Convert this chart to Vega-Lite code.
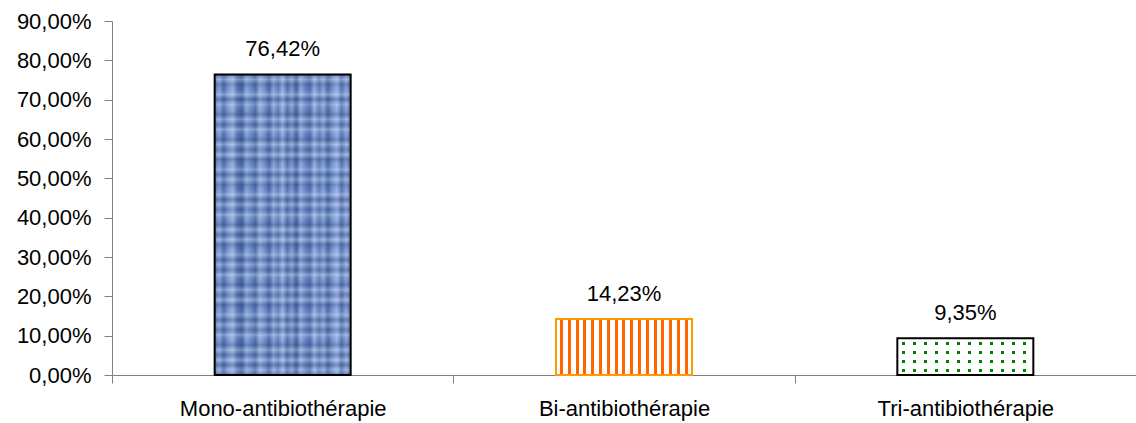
{
  "$schema": "https://vega.github.io/schema/vega-lite/v6.json",
  "width": 1024,
  "height": 354,
  "autosize": "none",
  "padding": {"left": 112, "top": 21, "right": 0, "bottom": 48},
  "background": "#ffffff",
  "config": {
    "view": {"stroke": null},
    "font": "Liberation Sans",
    "locale": {"number": {"decimal": ",", "thousands": " ", "grouping": [3], "currency": ["", " €"]}}
  },
  "data": {
    "values": [
      {"therapie": "Mono-antibiothérapie", "part": 0.7642},
      {"therapie": "Bi-antibiothérapie", "part": 0.1423},
      {"therapie": "Tri-antibiothérapie", "part": 0.0935}
    ]
  },
  "encoding": {
    "x": {
      "field": "therapie",
      "type": "nominal",
      "sort": null,
      "scale": {"paddingInner": 0, "paddingOuter": 0},
      "axis": {
        "title": null,
        "labelAngle": 0,
        "labelLimit": 0,
        "labelFontSize": 22,
        "labelColor": "#000000",
        "domainColor": "#808080",
        "tickColor": "#808080",
        "tickSize": 8,
        "tickBand": "extent",
        "labelPadding": 15
      }
    },
    "y": {
      "field": "part",
      "type": "quantitative",
      "scale": {"domain": [0, 0.9], "nice": false},
      "axis": {
        "title": null,
        "values": [0, 0.1, 0.2, 0.3, 0.4, 0.5, 0.6, 0.7, 0.8, 0.9],
        "format": ".2%",
        "grid": false,
        "labelFlush": false,
        "labelOverlap": false,
        "labelFontSize": 22,
        "labelColor": "#000000",
        "domainColor": "#808080",
        "tickColor": "#808080",
        "tickSize": 8,
        "labelPadding": 13
      }
    }
  },
  "layer": [
    {
      "transform": [{"filter": "datum.therapie === 'Mono-antibiothérapie'"}],
      "mark": {
        "type": "bar",
        "width": 136,
        "fill": {
          "gradient": "linear", "x1": 0, "y1": 0, "x2": 1, "y2": 0,
          "stops": [
            {"offset": 0, "color": "#5877B3"},
            {"offset": 0.033, "color": "#8AA6D9"},
            {"offset": 0.067, "color": "#4E6DAB"},
            {"offset": 0.1, "color": "#83A0D5"},
            {"offset": 0.133, "color": "#9EB7E3"},
            {"offset": 0.167, "color": "#5978B4"},
            {"offset": 0.2, "color": "#43619F"},
            {"offset": 0.233, "color": "#8CA8DB"},
            {"offset": 0.267, "color": "#708EC7"},
            {"offset": 0.3, "color": "#4F6EAC"},
            {"offset": 0.333, "color": "#9AB4E2"},
            {"offset": 0.367, "color": "#7795CD"},
            {"offset": 0.4, "color": "#4867A5"},
            {"offset": 0.433, "color": "#8EA9DB"},
            {"offset": 0.467, "color": "#6180BB"},
            {"offset": 0.5, "color": "#A0B9E5"},
            {"offset": 0.533, "color": "#5372AF"},
            {"offset": 0.567, "color": "#829FD3"},
            {"offset": 0.6, "color": "#43619F"},
            {"offset": 0.633, "color": "#95B0E0"},
            {"offset": 0.667, "color": "#6987C2"},
            {"offset": 0.7, "color": "#4E6DAB"},
            {"offset": 0.733, "color": "#9CB5E3"},
            {"offset": 0.767, "color": "#6281BC"},
            {"offset": 0.8, "color": "#8BA7DA"},
            {"offset": 0.833, "color": "#4969A7"},
            {"offset": 0.867, "color": "#7E9BD1"},
            {"offset": 0.9, "color": "#A1BAE6"},
            {"offset": 0.933, "color": "#5776B2"},
            {"offset": 0.967, "color": "#8EAADC"},
            {"offset": 1, "color": "#5271AE"}
          ]
        }
      }
    },
    {
      "transform": [{"filter": "datum.therapie === 'Mono-antibiothérapie'"}],
      "mark": {
        "type": "bar",
        "width": 136,
        "stroke": "#000000",
        "strokeWidth": 2,
        "fill": {
          "gradient": "linear", "x1": 0, "y1": 0, "x2": 0, "y2": 1,
          "stops": [
            {"offset": 0, "color": "rgba(30,50,110,0.3)"},
            {"offset": 0.017, "color": "rgba(215,228,250,0.3)"},
            {"offset": 0.033, "color": "rgba(30,50,110,0.25)"},
            {"offset": 0.05, "color": "rgba(90,120,180,0.1)"},
            {"offset": 0.067, "color": "rgba(215,228,250,0.35)"},
            {"offset": 0.083, "color": "rgba(30,50,110,0.3)"},
            {"offset": 0.1, "color": "rgba(215,228,250,0.25)"},
            {"offset": 0.117, "color": "rgba(90,120,180,0.1)"},
            {"offset": 0.133, "color": "rgba(30,50,110,0.3)"},
            {"offset": 0.15, "color": "rgba(215,228,250,0.3)"},
            {"offset": 0.167, "color": "rgba(30,50,110,0.25)"},
            {"offset": 0.183, "color": "rgba(215,228,250,0.35)"},
            {"offset": 0.2, "color": "rgba(90,120,180,0.1)"},
            {"offset": 0.217, "color": "rgba(30,50,110,0.3)"},
            {"offset": 0.233, "color": "rgba(215,228,250,0.3)"},
            {"offset": 0.25, "color": "rgba(30,50,110,0.2)"},
            {"offset": 0.267, "color": "rgba(215,228,250,0.35)"},
            {"offset": 0.283, "color": "rgba(30,50,110,0.3)"},
            {"offset": 0.3, "color": "rgba(90,120,180,0.1)"},
            {"offset": 0.317, "color": "rgba(215,228,250,0.3)"},
            {"offset": 0.333, "color": "rgba(30,50,110,0.3)"},
            {"offset": 0.35, "color": "rgba(215,228,250,0.25)"},
            {"offset": 0.367, "color": "rgba(30,50,110,0.25)"},
            {"offset": 0.383, "color": "rgba(90,120,180,0.1)"},
            {"offset": 0.4, "color": "rgba(215,228,250,0.35)"},
            {"offset": 0.417, "color": "rgba(30,50,110,0.3)"},
            {"offset": 0.433, "color": "rgba(215,228,250,0.3)"},
            {"offset": 0.45, "color": "rgba(30,50,110,0.2)"},
            {"offset": 0.467, "color": "rgba(215,228,250,0.35)"},
            {"offset": 0.483, "color": "rgba(90,120,180,0.1)"},
            {"offset": 0.5, "color": "rgba(30,50,110,0.3)"},
            {"offset": 0.517, "color": "rgba(215,228,250,0.3)"},
            {"offset": 0.533, "color": "rgba(30,50,110,0.25)"},
            {"offset": 0.55, "color": "rgba(215,228,250,0.35)"},
            {"offset": 0.567, "color": "rgba(30,50,110,0.3)"},
            {"offset": 0.583, "color": "rgba(90,120,180,0.1)"},
            {"offset": 0.6, "color": "rgba(215,228,250,0.3)"},
            {"offset": 0.617, "color": "rgba(30,50,110,0.3)"},
            {"offset": 0.633, "color": "rgba(215,228,250,0.25)"},
            {"offset": 0.65, "color": "rgba(30,50,110,0.25)"},
            {"offset": 0.667, "color": "rgba(215,228,250,0.35)"},
            {"offset": 0.683, "color": "rgba(90,120,180,0.1)"},
            {"offset": 0.7, "color": "rgba(30,50,110,0.3)"},
            {"offset": 0.717, "color": "rgba(215,228,250,0.3)"},
            {"offset": 0.733, "color": "rgba(30,50,110,0.2)"},
            {"offset": 0.75, "color": "rgba(215,228,250,0.35)"},
            {"offset": 0.767, "color": "rgba(30,50,110,0.3)"},
            {"offset": 0.783, "color": "rgba(90,120,180,0.1)"},
            {"offset": 0.8, "color": "rgba(215,228,250,0.3)"},
            {"offset": 0.817, "color": "rgba(30,50,110,0.3)"},
            {"offset": 0.833, "color": "rgba(215,228,250,0.25)"},
            {"offset": 0.85, "color": "rgba(30,50,110,0.25)"},
            {"offset": 0.867, "color": "rgba(215,228,250,0.35)"},
            {"offset": 0.883, "color": "rgba(90,120,180,0.1)"},
            {"offset": 0.9, "color": "rgba(30,50,110,0.3)"},
            {"offset": 0.917, "color": "rgba(215,228,250,0.3)"},
            {"offset": 0.933, "color": "rgba(30,50,110,0.25)"},
            {"offset": 0.95, "color": "rgba(215,228,250,0.35)"},
            {"offset": 0.967, "color": "rgba(30,50,110,0.3)"},
            {"offset": 0.983, "color": "rgba(215,228,250,0.25)"},
            {"offset": 1, "color": "rgba(30,50,110,0.3)"}
          ]
        }
      }
    },
    {
      "transform": [{"filter": "datum.therapie === 'Bi-antibiothérapie'"}],
      "mark": {
        "type": "bar",
        "width": 136,
        "stroke": "#FF9900",
        "strokeWidth": 2,
        "fill": {
          "gradient": "linear", "x1": 0, "y1": 0, "x2": 1, "y2": 0,
          "stops": [
            {"offset": 0, "color": "#ffffff"},
            {"offset": 0.0294, "color": "#ffffff"}, {"offset": 0.0294, "color": "#FF6600"},
            {"offset": 0.0515, "color": "#FF6600"}, {"offset": 0.0515, "color": "#ffffff"},
            {"offset": 0.0868, "color": "#ffffff"}, {"offset": 0.0868, "color": "#FF6600"},
            {"offset": 0.1088, "color": "#FF6600"}, {"offset": 0.1088, "color": "#ffffff"},
            {"offset": 0.1441, "color": "#ffffff"}, {"offset": 0.1441, "color": "#FF6600"},
            {"offset": 0.1662, "color": "#FF6600"}, {"offset": 0.1662, "color": "#ffffff"},
            {"offset": 0.2015, "color": "#ffffff"}, {"offset": 0.2015, "color": "#FF6600"},
            {"offset": 0.2235, "color": "#FF6600"}, {"offset": 0.2235, "color": "#ffffff"},
            {"offset": 0.2588, "color": "#ffffff"}, {"offset": 0.2588, "color": "#FF6600"},
            {"offset": 0.2809, "color": "#FF6600"}, {"offset": 0.2809, "color": "#ffffff"},
            {"offset": 0.3162, "color": "#ffffff"}, {"offset": 0.3162, "color": "#FF6600"},
            {"offset": 0.3382, "color": "#FF6600"}, {"offset": 0.3382, "color": "#ffffff"},
            {"offset": 0.3735, "color": "#ffffff"}, {"offset": 0.3735, "color": "#FF6600"},
            {"offset": 0.3956, "color": "#FF6600"}, {"offset": 0.3956, "color": "#ffffff"},
            {"offset": 0.4309, "color": "#ffffff"}, {"offset": 0.4309, "color": "#FF6600"},
            {"offset": 0.4529, "color": "#FF6600"}, {"offset": 0.4529, "color": "#ffffff"},
            {"offset": 0.4882, "color": "#ffffff"}, {"offset": 0.4882, "color": "#FF6600"},
            {"offset": 0.5103, "color": "#FF6600"}, {"offset": 0.5103, "color": "#ffffff"},
            {"offset": 0.5456, "color": "#ffffff"}, {"offset": 0.5456, "color": "#FF6600"},
            {"offset": 0.5676, "color": "#FF6600"}, {"offset": 0.5676, "color": "#ffffff"},
            {"offset": 0.6029, "color": "#ffffff"}, {"offset": 0.6029, "color": "#FF6600"},
            {"offset": 0.625, "color": "#FF6600"}, {"offset": 0.625, "color": "#ffffff"},
            {"offset": 0.6603, "color": "#ffffff"}, {"offset": 0.6603, "color": "#FF6600"},
            {"offset": 0.6824, "color": "#FF6600"}, {"offset": 0.6824, "color": "#ffffff"},
            {"offset": 0.7176, "color": "#ffffff"}, {"offset": 0.7176, "color": "#FF6600"},
            {"offset": 0.7397, "color": "#FF6600"}, {"offset": 0.7397, "color": "#ffffff"},
            {"offset": 0.775, "color": "#ffffff"}, {"offset": 0.775, "color": "#FF6600"},
            {"offset": 0.7971, "color": "#FF6600"}, {"offset": 0.7971, "color": "#ffffff"},
            {"offset": 0.8324, "color": "#ffffff"}, {"offset": 0.8324, "color": "#FF6600"},
            {"offset": 0.8544, "color": "#FF6600"}, {"offset": 0.8544, "color": "#ffffff"},
            {"offset": 0.8897, "color": "#ffffff"}, {"offset": 0.8897, "color": "#FF6600"},
            {"offset": 0.9118, "color": "#FF6600"}, {"offset": 0.9118, "color": "#ffffff"},
            {"offset": 0.9471, "color": "#ffffff"}, {"offset": 0.9471, "color": "#FF6600"},
            {"offset": 0.9691, "color": "#FF6600"}, {"offset": 0.9691, "color": "#ffffff"},
            {"offset": 1, "color": "#ffffff"}
          ]
        }
      }
    },
    {
      "transform": [{"filter": "datum.therapie === 'Tri-antibiothérapie'"}],
      "mark": {
        "type": "bar",
        "width": 136,
        "fill": {
          "gradient": "linear", "x1": 0, "y1": 0, "x2": 1, "y2": 0,
          "stops": [
            {"offset": 0, "color": "#ffffff"},
            {"offset": 0.0368, "color": "#ffffff"}, {"offset": 0.0368, "color": "#008000"},
            {"offset": 0.0589, "color": "#008000"}, {"offset": 0.0589, "color": "#ffffff"},
            {"offset": 0.1176, "color": "#ffffff"}, {"offset": 0.1176, "color": "#008000"},
            {"offset": 0.1397, "color": "#008000"}, {"offset": 0.1397, "color": "#ffffff"},
            {"offset": 0.1985, "color": "#ffffff"}, {"offset": 0.1985, "color": "#008000"},
            {"offset": 0.2206, "color": "#008000"}, {"offset": 0.2206, "color": "#ffffff"},
            {"offset": 0.2794, "color": "#ffffff"}, {"offset": 0.2794, "color": "#008000"},
            {"offset": 0.3015, "color": "#008000"}, {"offset": 0.3015, "color": "#ffffff"},
            {"offset": 0.3603, "color": "#ffffff"}, {"offset": 0.3603, "color": "#008000"},
            {"offset": 0.3824, "color": "#008000"}, {"offset": 0.3824, "color": "#ffffff"},
            {"offset": 0.4412, "color": "#ffffff"}, {"offset": 0.4412, "color": "#008000"},
            {"offset": 0.4632, "color": "#008000"}, {"offset": 0.4632, "color": "#ffffff"},
            {"offset": 0.5221, "color": "#ffffff"}, {"offset": 0.5221, "color": "#008000"},
            {"offset": 0.5441, "color": "#008000"}, {"offset": 0.5441, "color": "#ffffff"},
            {"offset": 0.6029, "color": "#ffffff"}, {"offset": 0.6029, "color": "#008000"},
            {"offset": 0.625, "color": "#008000"}, {"offset": 0.625, "color": "#ffffff"},
            {"offset": 0.6838, "color": "#ffffff"}, {"offset": 0.6838, "color": "#008000"},
            {"offset": 0.7059, "color": "#008000"}, {"offset": 0.7059, "color": "#ffffff"},
            {"offset": 0.7647, "color": "#ffffff"}, {"offset": 0.7647, "color": "#008000"},
            {"offset": 0.7868, "color": "#008000"}, {"offset": 0.7868, "color": "#ffffff"},
            {"offset": 0.8456, "color": "#ffffff"}, {"offset": 0.8456, "color": "#008000"},
            {"offset": 0.8676, "color": "#008000"}, {"offset": 0.8676, "color": "#ffffff"},
            {"offset": 0.9265, "color": "#ffffff"}, {"offset": 0.9265, "color": "#008000"},
            {"offset": 0.9485, "color": "#008000"}, {"offset": 0.9485, "color": "#ffffff"},
            {"offset": 1, "color": "#ffffff"}
          ]
        }
      }
    },
    {
      "transform": [{"filter": "datum.therapie === 'Tri-antibiothérapie'"}],
      "mark": {
        "type": "bar",
        "width": 136,
        "stroke": "#000000",
        "strokeWidth": 2,
        "fill": {
          "gradient": "linear", "x1": 0, "y1": 0, "x2": 0, "y2": 1,
          "stops": [
            {"offset": 0, "color": "#ffffff"},
            {"offset": 0.1087, "color": "#ffffff"}, {"offset": 0.1087, "color": "rgba(255,255,255,0)"},
            {"offset": 0.1902, "color": "rgba(255,255,255,0)"}, {"offset": 0.1902, "color": "#ffffff"},
            {"offset": 0.3533, "color": "#ffffff"}, {"offset": 0.3533, "color": "rgba(255,255,255,0)"},
            {"offset": 0.4348, "color": "rgba(255,255,255,0)"}, {"offset": 0.4348, "color": "#ffffff"},
            {"offset": 0.5978, "color": "#ffffff"}, {"offset": 0.5978, "color": "rgba(255,255,255,0)"},
            {"offset": 0.6793, "color": "rgba(255,255,255,0)"}, {"offset": 0.6793, "color": "#ffffff"},
            {"offset": 0.8424, "color": "#ffffff"}, {"offset": 0.8424, "color": "rgba(255,255,255,0)"},
            {"offset": 0.9239, "color": "rgba(255,255,255,0)"}, {"offset": 0.9239, "color": "#ffffff"},
            {"offset": 1, "color": "#ffffff"}
          ]
        }
      }
    },
    {
      "mark": {"type": "text", "baseline": "alphabetic", "dy": -18, "fontSize": 22, "color": "#000000"},
      "encoding": {"text": {"field": "part", "type": "quantitative", "format": ".2%"}}
    }
  ]
}
